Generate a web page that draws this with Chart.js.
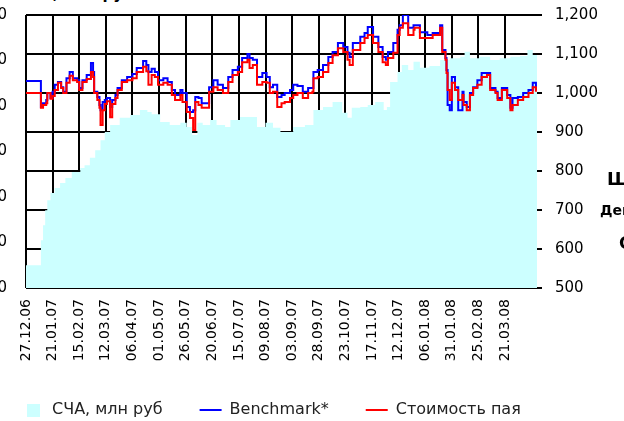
<!DOCTYPE html>
<html>
<head>
<meta charset="utf-8">
<script src="https://cdn.jsdelivr.net/npm/chart.js@4"></script>
<style>
  body { margin: 0; width: 624px; height: 421px; overflow: hidden; background: #fff; position: relative; font-family: 'DejaVu Sans', sans-serif; }
  #wrap { position: absolute; left: -40px; top: -9px; width: 664px; height: 437px; }
  .side { position: absolute; font-weight: bold; line-height: 1; white-space: nowrap; color: #000; }
</style>
</head>
<body>
<div class="side" style="left:18px; top:-13px; font-size:15px;">СЧА, млн руб</div>
<div id="wrap"><canvas id="navChart"></canvas></div>
<div class="side" style="left:607px; top:170px; font-size:18px;">Ш</div>
<div class="side" style="left:600px; top:203px; font-size:14px;">Дец</div>
<div class="side" style="left:619px; top:235px; font-size:17px;">С</div>
<script>
// x axis: days since 27.12.06, a labelled tick every 25 days
const tickLabels = ['27.12.06', '21.01.07', '15.02.07', '12.03.07', '06.04.07', '01.05.07',
  '26.05.07', '20.06.07', '15.07.07', '09.08.07', '03.09.07', '28.09.07', '23.10.07',
  '17.11.07', '12.12.07', '06.01.08', '31.01.08', '25.02.08', '21.03.08'];
const tickStepDays = 25;
const lastDay = 480;

// unit value and benchmark (right axis)
const days = [
  0, 13, 14, 16, 19, 20, 23, 25, 27, 30,
  33, 35, 38, 41, 44, 48, 50, 53, 57, 61,
  63, 64, 67, 69, 70, 72, 74, 76, 79, 81,
  84, 86, 90, 95, 100, 104, 110, 113, 115, 118,
  121, 124, 129, 133, 137, 140, 145, 147, 151, 154,
  157, 159, 162, 165, 170, 172, 176, 180, 185, 190,
  194, 199, 203, 208, 210, 213, 217, 222, 226, 229,
  232, 236, 240, 243, 248, 251, 255, 260, 265, 269,
  270, 274, 279, 284, 288, 293, 298, 302, 304, 307,
  314, 318, 321, 326, 331, 335, 338, 340, 345, 349,
  351, 354, 359, 364, 365, 370, 377, 382, 389, 391,
  394, 395, 396, 398, 400, 403, 406, 410, 411, 414,
  417, 420, 424, 428, 433, 436, 441, 443, 447, 452,
  455, 457, 462, 467, 472, 476, 479
];
const fundValue = [
  1000, 1000, 962, 969, 974, 1000, 985, 992, 1008, 1026,
  1013, 1000, 1026, 1044, 1033, 1028, 1008, 1028, 1036, 1054,
  1041, 1000, 982, 962, 918, 956, 972, 979, 938, 972,
  987, 1008, 1028, 1033, 1038, 1054, 1067, 1056, 1021, 1046,
  1041, 1021, 1026, 1021, 995, 982, 995, 977, 951, 936,
  905, 977, 969, 962, 962, 1003, 1015, 1008, 1000, 1028,
  1046, 1054, 1079, 1085, 1064, 1072, 1021, 1028, 1026, 1000,
  1003, 964, 974, 977, 987, 995, 1000, 987, 1000, 1003,
  1038, 1041, 1054, 1077, 1097, 1115, 1105, 1085, 1072, 1110,
  1128, 1141, 1149, 1128, 1105, 1079, 1072, 1090, 1103, 1149,
  1167, 1179, 1149, 1162, 1167, 1141, 1141, 1149, 1167, 1105,
  1085, 1051, 1008, 982, 1026, 1008, 982, 995, 969, 956,
  995, 1013, 1021, 1041, 1046, 1008, 1000, 982, 1008, 987,
  956, 969, 982, 990, 1000, 1015, 1003
];
const benchmark = [
  1031, 1031, 964, 974, 982, 1000, 987, 1003, 1021, 1028,
  1015, 1003, 1038, 1054, 1038, 1033, 1013, 1033, 1046, 1077,
  1054, 1003, 990, 969, 956, 977, 982, 987, 964, 982,
  995, 1013, 1033, 1041, 1049, 1064, 1082, 1072, 1054, 1062,
  1054, 1033, 1038, 1028, 1008, 995, 1008, 1000, 964, 951,
  956, 990, 987, 974, 974, 1015, 1033, 1021, 1013, 1041,
  1059, 1067, 1090, 1100, 1090, 1085, 1041, 1051, 1041, 1015,
  1021, 990, 995, 1000, 1008, 1021, 1018, 1003, 1013, 1013,
  1054, 1059, 1072, 1092, 1105, 1128, 1118, 1103, 1092, 1128,
  1144, 1154, 1169, 1144, 1118, 1092, 1085, 1105, 1128, 1162,
  1174, 1200, 1167, 1174, 1174, 1156, 1149, 1154, 1174, 1110,
  1090, 1059, 969, 956, 1041, 1015, 956, 1003, 977, 964,
  1000, 1015, 1033, 1051, 1051, 1013, 1003, 987, 1013, 995,
  962, 987, 990, 1000, 1008, 1026, 1008
];

// net asset value, mln rub (left axis)
const navDays = [
  0, 13, 14, 16, 18, 20, 23, 27, 32, 37,
  43, 51, 55, 60, 65, 70, 74, 79, 88, 98,
  107, 114, 118, 126, 135, 145, 151, 156, 161, 166,
  173, 179, 187, 192, 201, 210, 217, 225, 232, 239,
  251, 262, 270, 279, 288, 293, 297, 302, 306, 314,
  321, 328, 336, 339, 342, 349, 353, 359, 364, 370,
  379, 389, 398, 408, 412, 417, 426, 436, 445, 455,
  464, 471, 476, 480
];
const nav = [
  50, 50, 105, 138, 171, 193, 209, 220, 231, 242,
  255, 264, 270, 286, 303, 325, 343, 358, 374, 380,
  391, 387, 382, 365, 358, 363, 354, 336, 363, 358,
  369, 358, 354, 369, 376, 376, 354, 363, 352, 343,
  354, 358, 391, 398, 409, 409, 385, 374, 396, 398,
  402, 409, 391, 398, 453, 475, 490, 479, 497, 484,
  488, 501, 505, 508, 519, 505, 508, 501, 505, 508,
  510, 523, 512, 508
];

const NAV_COLOR = '#ccffff';
const BENCH_COLOR = '#0000ff';
const FUND_COLOR = '#ff0000';

const toPoints = (xs, ys) => xs.map((x, i) => ({ x: x, y: ys[i] }));

// square swatch for the area in the legend
const navSwatch = document.createElement('canvas');
navSwatch.width = 13;
navSwatch.height = 13;
const sw = navSwatch.getContext('2d');
sw.fillStyle = NAV_COLOR;
sw.fillRect(0, 0, 13, 13);

Chart.defaults.font.family = "'DejaVu Sans', sans-serif";

new Chart(document.getElementById('navChart'), {
  type: 'line',
  data: {
    datasets: [
      {
        label: 'СЧА, млн руб',
        data: toPoints(navDays, nav),
        yAxisID: 'yNav',
        backgroundColor: NAV_COLOR,
        borderColor: NAV_COLOR,
        borderWidth: 0,
        fill: 'start',
        stepped: true,
        pointRadius: 0,
        pointStyle: navSwatch,
        order: 3,
      },
      {
        label: 'Benchmark*',
        data: toPoints(days, benchmark),
        yAxisID: 'y',
        borderColor: BENCH_COLOR,
        backgroundColor: BENCH_COLOR,
        borderWidth: 2,
        fill: false,
        stepped: true,
        pointRadius: 0,
        pointStyle: 'line',
        order: 2,
      },
      {
        label: 'Стоимость пая',
        data: toPoints(days, fundValue),
        yAxisID: 'y',
        borderColor: FUND_COLOR,
        backgroundColor: FUND_COLOR,
        borderWidth: 2,
        fill: false,
        stepped: true,
        pointRadius: 0,
        pointStyle: 'line',
        order: 1,
      },
    ],
  },
  options: {
    responsive: true,
    maintainAspectRatio: false,
    animation: false,
    devicePixelRatio: 1,
    layout: { padding: { left: 25, top: 24, right: 0, bottom: 0 } },
    plugins: {
      tooltip: { enabled: false },
      legend: {
        position: 'bottom',
        align: 'start',
        labels: {
          usePointStyle: true,
          pointStyleWidth: 22,
          boxHeight: 16,
          padding: 37,
          color: '#222',
          font: { size: 16 },
          sort: (a, b) => a.datasetIndex - b.datasetIndex,
        },
      },
    },
    scales: {
      x: {
        type: 'linear',
        min: 0,
        max: lastDay,
        afterBuildTicks: (scale) => {
          scale.ticks = tickLabels.map((_, i) => ({ value: i * tickStepDays }));
        },
        afterFit: (scale) => { scale.height = 77; },
        ticks: {
          autoSkip: false,
          minRotation: 90,
          maxRotation: 90,
          padding: 11,
          color: '#000',
          font: { size: 14 },
          callback: (v) => tickLabels[Math.round(v / tickStepDays)],
        },
        grid: { color: '#000', lineWidth: 2, drawTicks: false },
        border: { display: false },
      },
      yNav: {
        position: 'left',
        min: 0,
        max: 600,
        afterFit: (scale) => { scale.width = 41; },
        ticks: { stepSize: 100, padding: 4, color: '#000', font: { size: 15 } },
        grid: { display: false, drawTicks: true, tickLength: 15 },
        border: { display: false },
      },
      y: {
        position: 'right',
        min: 500,
        max: 1200,
        afterFit: (scale) => { scale.width = 87; },
        ticks: {
          stepSize: 100,
          padding: 13,
          color: '#000',
          font: { size: 15 },
          callback: (v) => v.toLocaleString('en-US'),
        },
        grid: { color: '#000', lineWidth: 2, tickLength: 5, drawTicks: true },
        border: { display: false },
      },
    },
  },
});
</script>
</body>
</html>
